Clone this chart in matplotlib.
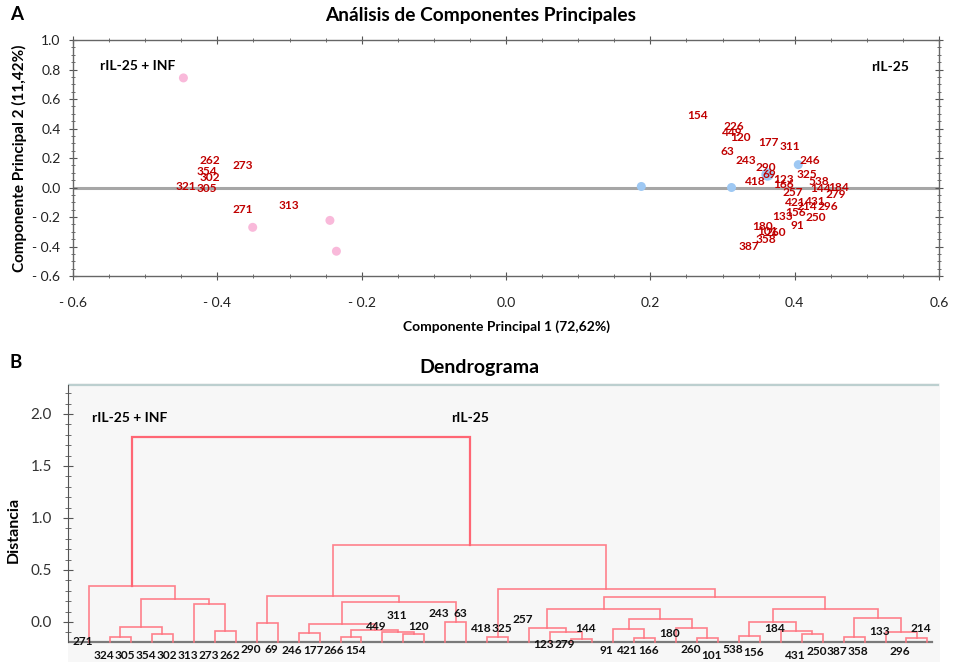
import matplotlib.pyplot as plt
from matplotlib.ticker import MultipleLocator, FixedLocator, FuncFormatter

plt.rcParams['font.family'] = ['Lato', 'DejaVu Sans']

# ---- PCA scores (PC1, PC2)
pink_pc1 = [-0.447, -0.351, -0.244, -0.235]
pink_pc2 = [0.743, -0.270, -0.223, -0.432]
blue_pc1 = [0.1875, 0.3125, 0.3625, 0.405]
blue_pc2 = [0.007, 0.0, 0.088, 0.155]
blue_size = [42, 42, 80, 42]

# sample labels in the score plot
lbl_names = ['262', '354', '302', '321', '305', '273', '271', '313',
             '154', '226', '449', '120', '177', '311', '63', '243', '290', '69',
             '246', '325', '418', '123', '166', '538', '257', '144', '184', '279',
             '421', '431', '214', '296', '156', '133', '250', '91', '180', '101',
             '260', '358', '387']
lbl_pc1 = [-0.411, -0.414, -0.411, -0.443, -0.414, -0.365, -0.365, -0.301,
           0.265, 0.315, 0.314, 0.325, 0.364, 0.394, 0.307, 0.332, 0.360, 0.365,
           0.421, 0.417, 0.346, 0.385, 0.385, 0.433, 0.397, 0.436, 0.461, 0.457,
           0.401, 0.429, 0.417, 0.446, 0.401, 0.383, 0.429, 0.404, 0.356, 0.363,
           0.374, 0.360, 0.336]
lbl_pc2 = [0.182, 0.108, 0.068, 0.007, -0.007, 0.149, -0.149, -0.122,
           0.486, 0.412, 0.372, 0.338, 0.304, 0.277, 0.243, 0.182, 0.135, 0.088,
           0.182, 0.088, 0.041, 0.054, 0.020, 0.041, -0.034, -0.007, 0.0, -0.047,
           -0.101, -0.095, -0.128, -0.128, -0.169, -0.196, -0.203, -0.257, -0.264, -0.297,
           -0.304, -0.351, -0.399]

# ---- hierarchical clustering: leaves in plotting order + merges (a, b, height)
leaf_names = ['271', '324', '305', '354', '302', '313', '273', '262', '290', '69',
              '246', '177', '266', '154', '449', '311', '120', '243', '63', '418',
              '325', '257', '123', '279', '144', '91', '421', '166', '180', '260',
              '101', '538', '156', '184', '431', '250', '387', '358', '133', '296', '214']
leaf_lbl_y = [-0.19, -0.327, -0.327, -0.327, -0.327, -0.327, -0.327, -0.327, -0.269, -0.269,
              -0.279, -0.279, -0.279, -0.279, -0.048, 0.058, -0.048, 0.077, 0.077, -0.067,
              -0.067, 0.019, -0.221, -0.212, -0.067, -0.279, -0.279, -0.279, -0.115, -0.269,
              -0.327, -0.269, -0.298, -0.067, -0.327, -0.288, -0.288, -0.288, -0.087, -0.288, -0.067]
merges = [
    (1, 2, -0.144), (3, 4, -0.115), (41, 42, -0.048), (6, 7, -0.087),
    (5, 44, 0.173), (43, 45, 0.221), (0, 46, 0.346),
    (8, 9, -0.010), (10, 11, -0.106), (12, 13, -0.144), (15, 16, -0.120),
    (14, 51, -0.096), (50, 52, -0.077), (49, 53, -0.019), (17, 18, 0.0),
    (54, 55, 0.192), (48, 56, 0.250),
    (19, 20, -0.144), (23, 24, -0.163), (22, 59, -0.096), (21, 60, -0.058),
    (26, 27, -0.154), (25, 62, -0.067), (29, 30, -0.154), (28, 64, -0.058),
    (63, 65, 0.029), (61, 66, 0.125),
    (31, 32, -0.135), (34, 35, -0.115), (33, 69, -0.087), (68, 70, 0.0),
    (36, 37, -0.144), (39, 40, -0.154), (38, 73, -0.096), (72, 74, 0.038),
    (71, 75, 0.125), (67, 76, 0.240), (58, 77, 0.317), (57, 78, 0.740),
    (47, 79, 1.779),
]
leaf_base = -0.19


def signed(v, pos):
    return '- %.1f' % abs(v) if v < -1e-9 else '%.1f' % abs(v)


def dendro_segments(n, links, base):
    pos = {i: (float(i), base) for i in range(n)}
    segs = []
    for k, (a, b, h) in enumerate(links):
        xa, ya = pos[a]
        xb, yb = pos[b]
        segs.append(([xa, xa, xb, xb], [ya, h, h, yb]))
        pos[n + k] = ((xa + xb) / 2, h)
    return segs


fig = plt.figure(figsize=(9.55, 6.62), dpi=100)

# ================= A: PCA
ax1 = fig.add_axes([73 / 955, 1 - 276 / 662, 866 / 955, 236 / 662])
ax1.set_xlim(-0.6, 0.6)
ax1.set_ylim(-0.6, 1.0)
ax1.axhline(0, color='#a6a6a6', lw=2.2, zorder=1)

ax1.scatter(pink_pc1, pink_pc2, s=42, color='#f9b9da', edgecolors='none', zorder=3)
ax1.scatter(blue_pc1, blue_pc2, s=blue_size, color='#9ec8f3', edgecolors='none', zorder=3)

for name, x, y in zip(lbl_names, lbl_pc1, lbl_pc2):
    ax1.text(x, y, name, color='#c00000', fontsize=8.6, fontweight='bold',
             ha='center', va='center', zorder=4)

ax1.text(-0.511, 0.824, 'rIL-25 + INF', fontsize=10, fontweight='bold', ha='center', va='center')
ax1.text(0.532, 0.818, 'rIL-25', fontsize=10, fontweight='bold', ha='center', va='center')

ax1.xaxis.set_major_locator(MultipleLocator(0.2))
ax1.xaxis.set_minor_locator(MultipleLocator(0.05))
ax1.yaxis.set_major_locator(MultipleLocator(0.2))
ax1.yaxis.set_minor_locator(MultipleLocator(0.05))
ax1.xaxis.set_major_formatter(FuncFormatter(signed))
ax1.yaxis.set_major_formatter(FuncFormatter(signed))
ax1.tick_params(which='both', direction='inout', top=True, right=True,
                colors='#555555', labelcolor='#222222', labelsize=10)
ax1.tick_params(which='major', length=6, pad=12)
ax1.tick_params(which='minor', length=3)
ax1.tick_params(axis='y', which='major', pad=6)
for sp in ax1.spines.values():
    sp.set_color('#666666')
    sp.set_linewidth(1)

ax1.set_xlabel('Componente Principal 1 (72,62%)', fontsize=10, fontweight='bold', labelpad=8)
ax1.set_ylabel('Componente Principal 2 (11,42%)', fontsize=11, fontweight='bold', labelpad=4)
fig.text(481 / 955, 1 - 15 / 662, 'Análisis de Componentes Principales',
         fontsize=13.8, fontweight='bold', ha='center', va='center')
fig.text(17 / 955, 1 - 15 / 662, 'A', fontsize=13.5, fontweight='bold', ha='center', va='center')

# ================= B: dendrogram
ax2 = fig.add_axes([68 / 955, 0.0, 872 / 955, 279 / 662])
ax2.set_facecolor('#f7f7f7')
ax2.set_xlim(-1.0, 40.6)
ax2.set_ylim(-0.385, 2.298)

segs = dendro_segments(len(leaf_names), merges, leaf_base)
for i, (xs, ys) in enumerate(segs):
    if i == len(segs) - 1:
        ax2.plot(xs, ys, color='#ff6674', lw=1.6, solid_joinstyle='miter', zorder=3)
    else:
        ax2.plot(xs, ys, color='#ff7480', lw=1.2, alpha=0.9, solid_joinstyle='miter', zorder=3)

ax2.plot([-1.0, 40.2], [leaf_base, leaf_base], color='#7a7a7a', lw=1.6, zorder=2)
ax2.plot([-1.0, 40.5], [2.279, 2.279], color='#bccfcf', lw=1.6, zorder=2)

for i, (name, y) in enumerate(zip(leaf_names, leaf_lbl_y)):
    ax2.text(i - 0.3, y, name, fontsize=8.6, fontweight='bold', color='#111111',
             ha='center', va='center', zorder=4)

ax2.text(1.96, 1.96, 'rIL-25 + INF', fontsize=10, fontweight='bold', ha='center', va='center')
ax2.text(18.2, 1.96, 'rIL-25', fontsize=10, fontweight='bold', ha='center', va='center')

for side in ['top', 'right', 'bottom']:
    ax2.spines[side].set_visible(False)
ax2.spines['left'].set_bounds(leaf_base, 2.279)
ax2.spines['left'].set_color('#555555')
ax2.set_xticks([])
ax2.yaxis.set_major_locator(FixedLocator([0.0, 0.5, 1.0, 1.5, 2.0]))
ax2.yaxis.set_minor_locator(FixedLocator([v / 10 for v in range(-1, 23)]))
ax2.yaxis.set_major_formatter(FuncFormatter(signed))
ax2.tick_params(axis='y', which='both', direction='inout', colors='#555555',
                labelcolor='#333333', labelsize=11)
ax2.tick_params(axis='y', which='major', length=7, pad=8)
ax2.tick_params(axis='y', which='minor', length=4)

fig.text(14 / 955, 1 - 530 / 662, 'Distancia', fontsize=11.5, fontweight='bold',
         rotation=90, ha='center', va='center')
fig.text(479 / 955, 1 - 367 / 662, 'Dendrograma', fontsize=14, fontweight='bold',
         ha='center', va='center')
fig.text(16 / 955, 1 - 363 / 662, 'B', fontsize=13.5, fontweight='bold', ha='center', va='center')

fig.savefig('out.png', dpi=100)
